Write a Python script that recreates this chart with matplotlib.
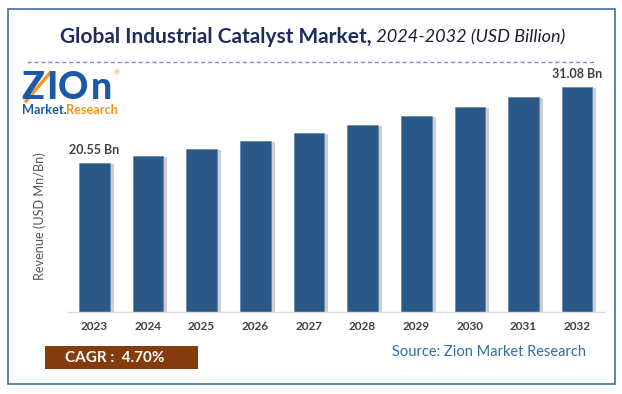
import matplotlib
matplotlib.use("Agg")
import matplotlib.pyplot as plt
from matplotlib.patches import Rectangle

# ====================== 数据 ======================
years = ["2023", "2024", "2025", "2026", "2027", "2028", "2029", "2030", "2031", "2032"]
revenue = [20.55, 21.51, 22.48, 23.58, 24.69, 25.84, 27.09, 28.33, 29.74, 31.08]
first_label = "20.55 Bn"
last_label = "31.08 Bn"
cagr_text = "CAGR :  4.70%"
source_text = "Source: Zion Market Research"
title_bold = "Global Industrial Catalyst Market,"
title_italic = " 2024-2032 (USD Billion)"
ylabel = "Revenue (USD Mn/Bn)"

BAR_COLOR = "#2A5987"
LOGO_BLUE = "#1D5AA6"
LOGO_ORANGE = "#F7941D"
FONT = ["Lato", "DejaVu Sans"]

W, H = 622, 394
fig = plt.figure(figsize=(W / 100, H / 100), dpi=100)
fig.patch.set_facecolor("white")

def fx(px):
    return px / W

def fy(py):
    return 1 - py / H

# 外框
fig.add_artist(Rectangle((fx(8), fy(384)), fx(615) - fx(8), fy(8.5) - fy(384),
                         transform=fig.transFigure, fill=False,
                         edgecolor="#3E6FA8", linewidth=1.2))
# 虚线
fig.add_artist(plt.Line2D([fx(27), fx(596)], [fy(62), fy(62)], transform=fig.transFigure,
                          color="#6F93CC", linewidth=1.0, linestyle=(0, (3, 2))))

# 主图
ax = fig.add_axes([fx(67.5), fy(311.7), fx(604) - fx(67.5), fy(74) - fy(311.7)])
x = list(range(len(years)))
ax.bar([i + 0.07 for i in x], [v - 0.15 for v in revenue], width=0.58,
       color="#A6A6A6", alpha=0.55, zorder=1)
ax.bar(x, revenue, width=0.57, color=BAR_COLOR, edgecolor="#5B84B1",
       linewidth=0.5, zorder=2)
ax.set_xlim(-0.5, 9.5)
ax.set_ylim(0, 32.85)
ax.set_xticks(x)
ax.set_xticklabels(years, fontsize=8.5, fontweight="bold", color="#404040", family=FONT)
ax.tick_params(axis="x", length=0, pad=7)
ax.set_yticks([])
for s in ["top", "right", "left"]:
    ax.spines[s].set_visible(False)
ax.spines["bottom"].set_color("#D9D9D9")
ax.spines["bottom"].set_linewidth(1.0)

ax.text(0, revenue[0] + 1.0, first_label, ha="center", va="bottom",
        fontsize=9, fontweight="bold", color="#404040", family=FONT)
ax.text(9, revenue[-1] + 1.0, last_label, ha="center", va="bottom",
        fontsize=9, fontweight="bold", color="#404040", family=FONT)

fig.text(fx(40), fy(216), ylabel, rotation=90, ha="center", va="center",
         fontsize=9.2, color="#595959", family=FONT)

# 标题（粗体 + 斜体）
t1 = fig.text(0, fy(37), title_bold, ha="left", va="center", fontsize=15.0,
              fontweight="bold", color="#1F2D5C", family=FONT)
t2 = fig.text(0, fy(37), title_italic, ha="left", va="center", fontsize=13.1,
              fontstyle="italic", color="#1F1F3A", family=FONT)
fig.canvas.draw()
r = fig.canvas.get_renderer()
w1 = t1.get_window_extent(r).width
w2 = t2.get_window_extent(r).width
start = 312.5 - (w1 + w2) / 2
t1.set_x(fx(start))
t2.set_x(fx(start + w1))

# 标志
for letter, left in [("Z", 21), ("I", 46), ("O", 58), ("n", 91)]:
    fig.text(fx(left), fy(99), letter, ha="left", va="baseline", fontsize=27,
             fontweight="black", color=LOGO_BLUE, family=FONT)
fig.add_artist(plt.Line2D([fx(26), fx(50)], [fy(101), fy(73)], transform=fig.transFigure,
                          color=LOGO_ORANGE, linewidth=2.4))
fig.text(fx(114), fy(73), "®", ha="left", va="center", fontsize=5,
         color=LOGO_ORANGE, family=FONT)
fig.text(fx(22), fy(110), "Market.", ha="left", va="center", fontsize=9.2,
         fontweight="bold", color=LOGO_BLUE, family=FONT)
fig.text(fx(66), fy(110), "Research", ha="left", va="center", fontsize=9.2,
         fontweight="bold", color=LOGO_ORANGE, family=FONT)

# CAGR 框
fig.add_artist(Rectangle((fx(45), fy(369)), fx(198) - fx(45), fy(346) - fy(369),
                         transform=fig.transFigure, facecolor="#843C0C", edgecolor="none"))
fig.text(fx(65), fy(357.5), cagr_text, ha="left", va="center", fontsize=11,
         fontweight="bold", color="white", family=FONT)

fig.text(fx(586), fy(352), source_text, ha="right", va="center", fontsize=10.5,
         color="#2E6DA4", family=FONT)

fig.savefig("out.png", dpi=100)
